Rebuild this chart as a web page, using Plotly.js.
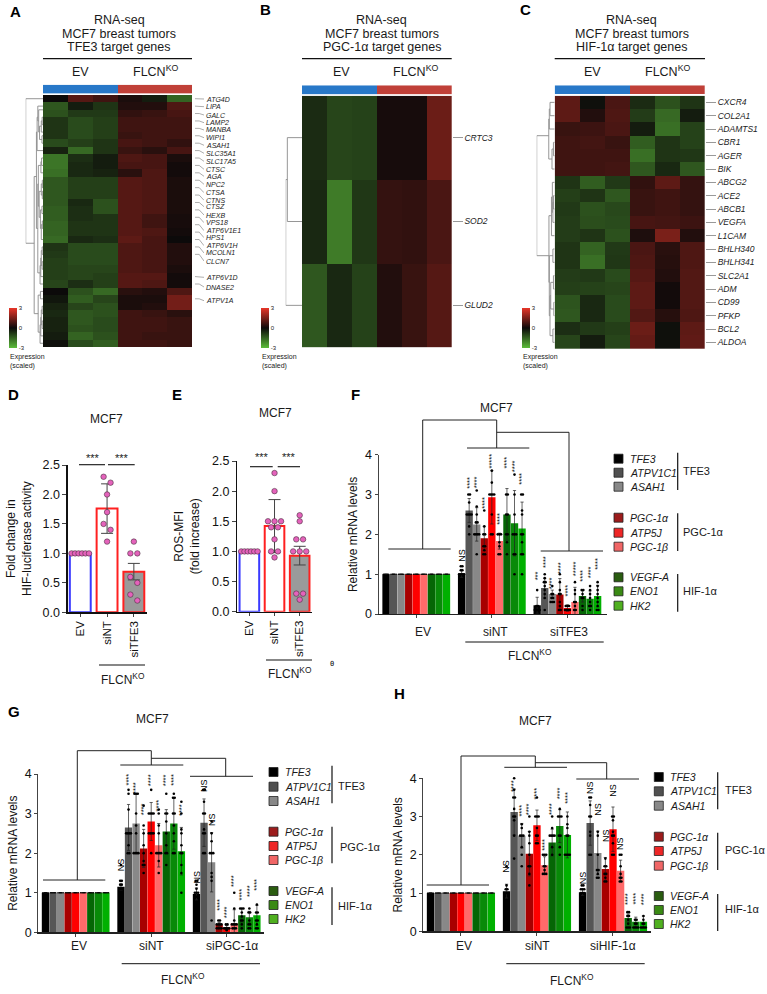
<!DOCTYPE html>
<html><head><meta charset="utf-8">
<script src="https://cdn.plot.ly/plotly-3.0.1.min.js"></script>
<style>html,body{margin:0;padding:0;background:#fff}#c{width:767px;height:994px}</style>
</head><body><div id="c"></div><pre id="dbg" style="position:absolute;left:330px;top:660px;width:70px;font:7px monospace;white-space:pre-wrap;margin:0"></pre>
<script>
const W=767,H=994,FONT='"Liberation Sans",Arial,sans-serif';
// ---------- heatmap data ----------
const heatA=[
[0,1.0,.7,.2,-.3,-1.5],[-1.3,-.3,-.7,.3,.3,.9],[-1.2,-.8,-.8,.5,.6,.8],[-.7,-1.1,-.9,.7,.7,.7],
[-.7,-1.1,-.9,.7,.7,.7],[-.7,-1.1,-.9,.6,.7,.7],[-1.1,-.9,-.7,.8,.7,.5],[-.4,-1.6,-.7,.6,.4,.8],
[-1.8,-.6,-.3,.9,.8,.2],[-1.8,-.5,-.3,.8,.8,.1],[-1.7,-.5,-.4,.4,.9,.1],[-1.3,-.9,-.9,1,.9,.2],
[-1.3,-.9,-.9,1,.9,.2],[-1.3,-.9,-.9,1,.9,.2],[-1.3,-.5,-1.2,1,.9,.2],[-1.4,-.6,-1.2,1,.9,.2],
[-1.4,-.6,-.7,1,.7,.15],[-1.5,-.7,-.7,1,.7,.15],[-1.5,-.7,-.7,1,.9,.1],[-1.6,-.5,-.6,1.1,.8,0],
[-.7,-1.1,-1.1,.9,.8,.3],[-.8,-1.1,-1.1,.9,.8,.3],[-.9,-1.1,-1.1,.9,.8,.3],[-.9,-1.0,-1.0,.9,.8,.2],
[-.9,-1.0,-.9,1,1,.1],[-1,-.6,-.9,1,.9,.1],[0,-1.2,-1.6,.4,.3,.9],[-.2,-1.4,-1,.2,.2,1.4],
[-.4,-1,-1.2,.2,.3,1.4],[-.5,-1.3,-1.2,.7,.6,.4],[-.4,-1.3,-1.1,.7,.7,.6],[-.4,-1.2,-1.1,.7,.7,.6],
[-.3,-1.5,-1.2,.7,.6,.6],[-.1,-1.1,-1.4,.7,.7,.6]];
const genesA=['ATG4D','LIPA','GALC','LAMP2','MANBA','WIPI1','ASAH1','SLC35A1','SLC17A5','CTSC','AGA','NPC2','CTSA','CTNS','CTSZ','HEXB','VPS18','ATP6V1E1','HPS1','ATP6V1H','MCOLN1','CLCN7','ATP6V1D','DNASE2','ATPV1A'];
const rowsA=[0,1,2,3,4,5,6,7,8,9,10,11,12,13,14,15,16,17,18,19,20,21,24,25,27];
const labelYA=[99,106.7,115,122.7,130,137.7,145.3,153.3,161.3,169.3,176.3,184.3,192.7,200.3,206.7,215,222.7,230.7,237.7,245.7,253,261,277.3,287,300.7];
const genesB=['CRTC3','SOD2','GLUD2'];
const heatB=[[-.55,-1.0,-.95,.15,.15,1.3],[-.5,-1.9,-.75,.55,.5,.85],[-1.3,-.5,-.95,.3,.6,1.0]];
const genesC=['CXCR4','COL2A1','ADAMTS1','CBR1','AGER','BIK','ABCG2','ACE2','ABCB1','VEGFA','L1CAM','BHLH340','BHLH341','SLC2A1','ADM','CD99','PFKP','BCL2','ALDOA'];
const heatC=[[1.1,-.1,.85,-.55,-1.2,-.7],[1.1,.3,.9,-.85,-1.6,-.3],[.6,.65,.85,-.3,-1.7,-.95],[.7,.75,.6,-1.4,-.7,-.95],
[.7,.7,.7,-1.7,-.7,-.75],[.7,.7,.75,-1.3,-.5,-1.3],[-.7,-1.4,-.8,.5,1.1,.55],[-.9,-.7,-1.3,.6,.7,.55],[-.8,-1.2,-1.05,.6,.7,.55],
[-.85,-1.15,-1.1,.8,.75,.65],[-.85,-.7,-1.2,.25,1.5,.3],[-.7,-1.5,-.8,.85,.4,.9],[-.7,-1.7,-.75,.9,.35,.9],[-.85,-.8,-1.1,1,.3,.95],
[-.9,-.95,-1.0,1.1,.1,.95],[-1.25,-.5,-1.1,1.1,.1,.95],[-1.3,-.5,-1.1,.95,.35,.9],[-.6,-.8,-.9,1.3,-.1,1.1],[-1.0,-.3,-1.0,1.2,-.1,1.15]];
// dendrogram merges: [rowA, heightA, rowB, heightB, mergeHeight]
const dendroA=[[3,0,4,0,.05],[3.5,.05,5,0,.1],[5.5,0,6.5,0,.06],[4.2,.1,6,.06,.2],[2,0,5,.2,.25],[1.5,0,3.5,.25,.3],[3,.3,7.5,0,.34],
[8.5,0,9.5,0,.08],[9,.08,10.5,0,.12],[11.5,0,12.5,0,.04],[13,0,14,0,.04],[12,.04,13.5,.04,.1],[15,0,16,0,.06],[17,0,18,0,.04],[17.5,.04,19.5,0,.1],[15.5,.06,18,.1,.15],[13,.1,16.5,.15,.22],[9.5,.12,15,.22,.27],
[20.5,0,21.5,0,.05],[22.5,0,23.5,0,.05],[21,.05,23,.05,.1],[22,.1,24.5,0,.13],[23,.13,25.5,0,.17],
[26.5,0,27.5,0,.15],[28.5,0,29.5,0,.05],[30.5,0,31.5,0,.05],[29,.05,31,.05,.1],[30,.1,32.5,0,.13],[31,.13,33.5,0,.17],[27,.15,32,.17,.28],
[12,.27,24,.17,.3],[5,.34,18,.3,.38],[11,.38,29.5,.28,.51],[.5,0,20,.51,1]];
const dendroB=[[.5,0,1.5,0,.9],[1,.9,2.5,0,1]];
const dendroC=[[.5,0,1.5,0,.26],[1,.26,2.5,0,.3],[3.5,0,4.5,0,.07],[4,.07,5.5,0,.15],[1.75,.3,4.75,.15,.33],
[7.5,0,8.5,0,.07],[8,.07,9.5,0,.1],[6.5,0,8.75,.1,.13],[7.6,.13,10.5,0,.18],[11.5,0,12.5,0,.1],[13.5,0,14.5,0,.07],[15.5,0,16.5,0,.05],[14,.07,16,.05,.22],[17.5,0,18.5,0,.1],[15,.22,18,.1,.26],[12,.1,16.5,.26,.3],[9,.18,14,.3,.32],[3,.33,12,.32,1]];
// ---------- panels D, E ----------
const catsDE=['EV','siNT','siTFE3'];
const barsD=[1,1.76,.69], errD=[0,.42,.14];
const ptsD=[[1,1,1,1,1,1],[2.3,2.2,2.0,1.7,1.5,1.4,1.2],[1.2,1,1,.6,.5,.3,.2]];
const barsE=[1,1.42,.93], errE=[0,.44,.155];
const ptsE=[[1,1,1,1,1,1],[2.3,2.0,1.5,1.5,1.5,1.4,1.4,1.2,1.0,1.0,.9],[1.6,1.5,1.2,1.2,1,1,1,.3,.3,.2]];
// ---------- panels F, G, H ----------
const series=['TFE3','ATPV1C1','ASAH1','PGC-1α','ATP5J','PGC-1β','VEGF-A','ENO1','HK2'];
const barColors=['#000000','#565656','#888888','#a80000','#ff0000','#ff6a6a','#056605','#088a08','#00b000'];
const swatchColors=['#000000','#505050','#888888','#9c1c1c','#ee2626','#f06666','#2a5c10','#3a8a14','#50b020'];
const evVals=[1,1,1,1,1,1,1,1,1];
const evPts=[1,1,1,1,1];
const F_siNT=[1.02,2.6,2.25,1.9,2.93,1.83,2.5,2.28,2.15], F_siNT_err=[.1,.3,.42,.3,.67,.2,.65,.82,.66];
const F_si=[.22,.65,.5,.49,.15,.3,.45,.38,.45], F_si_err=[.2,.25,.1,.4,.08,.37,.15,.2,.27];
const F_siNT_pts=[[1,1,1,1,1.1,1.1,1.2,1.2],[2,2.2,2.5,2.5,2.5,2.5,2.8,3,3],[1.5,2,2,2,2,2.3,2.3,2.5,2.7,3.1],[1.5,1.5,1.6,1.7,1.7,2,2,2.2,2.6],[2,2,2.5,3,3,3,3,3.3,3.6],[1.5,1.5,1.7,1.8,2,2,2],[1.5,1.8,2,2,2.5,2.5,3,3],[1,1.5,1.5,2,2,2,2.5,3,3.5],[1,1.5,1.5,1.8,2,2,2.5,2.6,3,3]];
const F_si_pts=[[.1,.1,.1,.1,.2,.2,.6],[.1,.4,.5,.6,.7,.8,.8,.9,1],[.3,.3,.3,.4,.4,.5,.5,.7],[.1,.1,.2,.3,.5,.5,.6,.8,1],[.1,.1,.1,.1,.2,.2,.2],[.1,.1,.2,.3,.3,.5,.6,.8],[.1,.2,.4,.4,.5,.6,.6],[.1,.2,.2,.3,.4,.5,.6,.7],[.1,.1,.2,.3,.4,.5,.6,.7,.8]];
const F_sig1=['NS','****','****','****','*****','****','****','****','****'], F_sig1Y=[1.48,3.3,3.3,2.8,3.85,2.4,3.8,3.7,3.4];
const F_sig2=['***','****','****','****','****','*****','****','****','****'], F_sig2Y=[.95,1.3,.78,1.15,.6,1.15,.95,1.05,1.25];
const G_siNT=[1.15,2.65,2.75,2.12,2.8,2.2,2.55,2.75,2.05], G_siNT_err=[.08,.58,.75,.48,.48,.55,.55,.65,.6];
const G_si=[.97,2.77,1.77,.2,.12,.22,.43,.38,.43], G_si_err=[.15,.6,.75,.05,.05,.35,.17,.15,.25];
const G_siNT_pts=[[1,1.1,1.1,1.2,1.2,1.3,1.3,1.7],[2,2,2.2,2.5,2.5,2.5,2.5,3.1,3.5,3.6],[2,2,2,2,2.5,2.7,3,3.5,3.5,3.5],[1.5,1.7,1.7,1.8,2,2.2,2.5,2.7,3.2],[2,2.5,2.5,2.5,2.5,3,3,3,3,3.6],[1.5,1.8,2,2,2,2,2.5,2.7,3,3.1],[1.7,2,2,2.2,2.5,2.8,3,3,3.5],[2,2,2.3,2.5,2.7,3,3,3.4,3.4,3.5],[1,1.5,1.7,2,2,2.2,2.5,2.6,3,3.3]];
const G_si_pts=[[.9,.9,1,1,1,1.1,1.2,1.3,1.3],[2,2,2.5,2.5,2.6,3,3,3.3,3.6,3.6],[.3,1.3,1.4,1.5,2,2,2,2.3,2.5,2.8],[.1,.1,.1,.1,.2,.2,.2,.2,.3,.3],[.05,.1,.1,.1,.1,.1,.2,.2],[.1,.1,.1,.2,.2,.2,.2,.3,.6,1.0],[.1,.2,.3,.3,.4,.5,.6,.6,.6],[.1,.1,.2,.2,.3,.5,.5,.6],[.1,.1,.2,.3,.3,.5,.5,.7]];
const G_sig1=['NS','****','****','****','****','****','****','****','****'], G_sig1Y=[1.72,3.85,3.65,3.1,3.85,3.2,3.85,3.85,3.1];
const G_sig2=['NS','NS','NS','****','****','****','****','****','****'], G_sig2Y=[1.4,3.7,2.85,.7,.5,1.3,.95,1.05,1.2];
const H_siNT=[1.05,3.12,2.5,2.03,2.77,1.73,2.32,2.75,2.52], H_siNT_err=[.18,.6,.32,.58,.4,.22,.35,.43,.6];
const H_si=[1.02,2.83,2.05,1.63,2.67,1.58,.35,.25,.25], H_si_err=[.08,.58,.57,.3,.58,.28,.1,.12,.15];
const H_siNT_pts=[[1,1,1,1.1,1.1,1.2,1.7],[1.9,2.5,2.9,3,3,3.2,3.5,3.5,3.7,4],[1.7,2,2.2,2.5,2.5,2.5,2.7,2.8],[1.2,1.5,1.7,1.7,2,2.3,2.5,2.6,3],[2.3,2.3,2.5,2.5,2.7,3,3,3,3.5],[1.5,1.5,1.5,1.6,1.7,1.7,2,2,2],[2,2.2,2.5,2.5,2.5,2.5,2.7,3],[2,2.2,2.5,2.5,3,3,3,3.2],[2,2,2,2,2.5,2.5,2.7,2.8,3]];
const H_si_pts=[[1,1,1,1.1,1.1,1.1,1.2,1.2],[2,2,2.5,2.6,3,3,3.3,3.5,3.5],[1.4,1.4,1.5,1.6,1.6,2,2.5,2.6],[1.3,1.3,1.4,1.5,1.5,1.7,1.7,1.9],[2,2,2.3,2.5,2.5,2.6,2.9,3,3],[1.3,1.3,1.4,1.4,1.5,1.7,2,2],[.1,.1,.1,.2,.3,.4,.4,.5,.5],[.1,.1,.1,.1,.2,.2,.3,.3],[.1,.1,.1,.1,.2,.2,.3,.4]];
const H_sig1=['NS','****','****','****','****','****','****','****','****'], H_sig1Y=[1.7,3.8,3.15,3.2,3.6,2.25,3.2,3.6,3.5];
const H_sig2=['NS','NS','NS','NS','NS','NS','****','****','****'], H_sig2Y=[1.4,3.75,3.2,2.5,3.7,2.3,.85,.85,.85];

// ---------- helpers ----------
const traces=[],annotations=[],shapes=[];
const layout={width:W,height:H,margin:{l:0,r:0,t:0,b:0},paper_bgcolor:'#fff',plot_bgcolor:'rgba(0,0,0,0)',showlegend:false,hovermode:false,barmode:'overlay',font:{family:FONT,color:'#111'},annotations,shapes};
let axN=0;
function addAxes(b,xo,yo){axN++;const s=axN===1?'':String(axN);
 const base={fixedrange:true,showgrid:false,zeroline:false};
 layout['xaxis'+s]=Object.assign({},base,{domain:[b.l/W,b.r/W],anchor:'y'+s},xo);
 layout['yaxis'+s]=Object.assign({},base,{domain:[1-b.b/H,1-b.t/H],anchor:'x'+s},yo);
 return {x:'x'+s,y:'y'+s};}
const hidden={showticklabels:false,ticks:'',showline:false};
function txt(x,y,text,o={}){annotations.push({xref:'paper',yref:'paper',x:x/W,y:1-y/H,text,showarrow:false,xanchor:o.anchor||'center',yanchor:'middle',borderpad:0,textangle:o.angle||0,font:{size:o.size||12.5,family:FONT,color:o.color||'#1a1a1a',weight:o.weight||400}});}
function line(x0,y0,x1,y1,w=1,c='#222'){shapes.push({type:'line',xref:'paper',yref:'paper',x0:x0/W,x1:x1/W,y0:1-y0/H,y1:1-y1/H,line:{color:c,width:w}});}
function rect(x0,y0,x1,y1,f){shapes.push({type:'rect',xref:'paper',yref:'paper',x0:x0/W,x1:x1/W,y0:1-y0/H,y1:1-y1/H,fillcolor:f,line:{color:'#222',width:.8}});}
const heatScale=[[0,'#5cbc3a'],[.5,'#0c0a0a'],[1,'#e83528']];
function dendro(b,links,n){const a=addAxes(b,Object.assign({range:[1,0]},hidden),Object.assign({range:[n,0]},hidden));
 const xs=[],ys=[];links.forEach(([r1,h1,r2,h2,h])=>{xs.push(h1,h,h,h2,null);ys.push(r1,r1,r2,r2,null);});
 traces.push({type:'scatter',mode:'lines',x:xs,y:ys,xaxis:a.x,yaxis:a.y,line:{color:'#8a8a8a',width:.9},cliponaxis:false});}
function heatPanel(o){
 const t=o.hT,b=o.hB;
 const s=addAxes({l:o.l,r:o.r,t:o.sT,b:o.sB},Object.assign({range:[-.5,5.5]},hidden),Object.assign({range:[.5,-.5]},hidden));
 traces.push({type:'heatmap',z:[[0,0,0,1,1,1]],zmin:0,zmax:1,colorscale:[[0,'#2878c8'],[1,'#c04038']],showscale:false,xaxis:s.x,yaxis:s.y});
 const yo=o.genes?{type:'category',autorange:'reversed',side:'right',dtick:1,tickmode:'linear',ticks:'outside',ticklen:10,tickcolor:'#999',tickwidth:1,showline:false,tickfont:{size:8.5,style:'italic',family:FONT,color:'#222'}}:Object.assign({range:[o.z.length-.5,-.5]},hidden);
 const a=addAxes({l:o.l,r:o.r,t,b},Object.assign({range:[-.5,5.5]},hidden),yo);
 traces.push({type:'heatmap',z:o.z,y:o.genes,zmin:-3,zmax:3,colorscale:heatScale,xaxis:a.x,yaxis:a.y,showscale:true,
  colorbar:{thickness:8,thicknessmode:'pixels',len:40,lenmode:'pixels',x:o.cbL/W,xanchor:'left',y:1-307.5/H,yanchor:'top',xpad:0,ypad:0,outlinewidth:0,ticks:'',tickvals:[-3,0,3],ticktext:['-3','0','3'],tickfont:{size:6,family:FONT,color:'#222'}}});
 dendro({l:o.dL,r:o.l,t,b},o.links,o.z.length);
 o.title.forEach((tx,i)=>txt(o.cx,20+i*13.6,tx));
 line(o.l,58.7,o.r,58.7,1.2,'#111');
 txt(o.evX,72,'EV');txt(o.koX,71,'FLCN<sup>KO</sup>');
 txt(o.cbL,356.7,'Expression',{size:7,anchor:'left'});txt(o.cbL,366,'(scaled)',{size:7,anchor:'left'});
}
function swarm(vals,center,tol,stepMax,maxW){const s=vals.slice().sort((a,b)=>b-a);const xs=[],ys=[];let i=0;
 while(i<s.length){let j=i;while(j+1<s.length&&s[j]-s[j+1]<=tol+1e-9)j++;const n=j-i+1,st=Math.min(stepMax,maxW/n);
  for(let k=0;k<n;k++){xs.push(center+(k-(n-1)/2)*st);ys.push(s[i+k]);}i=j+1;}
 return {xs,ys};}
function simplePanel(o){
 const a=addAxes({l:o.l,r:o.r,t:o.t,b:o.b},
  {range:[o.xmin,o.xmax],tickvals:catsDE.map((_,i)=>i),ticktext:catsDE,showline:true,linecolor:'#111',linewidth:1.3,ticks:'outside',ticklen:3,tickangle:-90,tickfont:{size:11.5,family:FONT,color:'#111'}},
  {range:[0,2.5],tickvals:[0,.5,1,1.5,2,2.5],tickformat:'.1f',showline:true,linecolor:'#111',linewidth:1.3,ticks:'outside',ticklen:4,tickfont:{size:12.5,family:FONT,color:'#111'},
   title:{text:o.ytitle,font:{size:12,family:FONT,color:'#111'},standoff:o.standoff}});
 traces.push({type:'bar',x:catsDE.map((_,i)=>i),y:o.vals,width:o.barW,xaxis:a.x,yaxis:a.y,marker:{color:['#fff','#fff','#9a9a9a'],line:{color:['#3a3aff','#ff2020','#ff2020'],width:2}},
  error_y:{type:'data',array:o.err,visible:true,color:'#444',thickness:1,width:6}});
 o.pts.forEach((p,i)=>{const sw=swarm(p,i,o.tol,o.step,.78);
  traces.push({type:'scatter',mode:'markers',x:sw.xs,y:sw.ys,xaxis:a.x,yaxis:a.y,cliponaxis:false,marker:{size:5.5,color:'#e462bb',line:{color:'#4a3040',width:.6}}});});
}
function groupPanel(o){
 const a=addAxes({l:o.l,r:o.r,t:o.t,b:o.b},
  {range:[o.xmin,o.xmax],tickvals:[4,14,24],showticklabels:false,showline:true,linecolor:'#222',linewidth:1.2,ticks:'outside',ticklen:3},
  {range:[0,4],tickvals:[0,1,2,3,4],showline:true,linecolor:'#444',linewidth:1.2,ticks:'outside',ticklen:3,tickfont:{size:12.5,family:FONT,color:'#111'},
   title:{text:'Relative mRNA levels',font:{size:12,family:FONT,color:'#111'},standoff:o.standoff}});
 const groups=[[evVals,evVals.map(()=>0),evVals.map(()=>evPts),null,null],[o.g1,o.g1e,o.g1p,o.s1,o.s1y],[o.g2,o.g2e,o.g2p,o.s2,o.s2y]];
 groups.forEach(([v,e,p,s,sy],g)=>{
  const xs=v.map((_,i)=>g*10+i);
  traces.push({type:'bar',x:xs,y:v,width:.97,xaxis:a.x,yaxis:a.y,marker:{color:barColors,line:{width:0}},
   error_y:{type:'data',array:e,visible:true,color:'#222',thickness:.7,width:1.6}});
  p.forEach((pp,i)=>{const sw=swarm(pp,g*10+i,0,.22,.85);
   traces.push({type:'scatter',mode:'markers',x:sw.xs,y:sw.ys,xaxis:a.x,yaxis:a.y,cliponaxis:false,marker:{size:g?2.6:1.6,color:'#000'}});});
  if(s)s.forEach((tx,i)=>annotations.push({xref:a.x,yref:a.y,x:g*10+i,y:sy[i],text:tx,showarrow:false,textangle:-90,borderpad:0,font:{size:tx==='NS'?9:7.5,family:FONT,color:'#000'}}));
 });
 o.groupLabels.forEach(([t,x])=>txt(x,o.gy,t,{size:12}));
 line(o.koL,o.koLineY,o.koR,o.koLineY,1,'#111');txt(o.koX,o.koY,'FLCN<sup>KO</sup>',{size:12});
 const br=o.br;
 line(br.ev[0],br.ev[2],br.ev[1],br.ev[2]);
 line(br.nt[0],br.nt[2],br.nt[1],br.nt[2]);
 line(br.si[0],br.si[2],br.si[1],br.si[2]);
 line(br.a,br.ev[2],br.a,br.top);line(br.a,br.top,br.b,br.top);line(br.b,br.top,br.b,br.nt[2]);
 line(br.b,br.mid,br.c,br.mid);line(br.c,br.mid,br.c,br.si[2]);
 series.forEach((s,i)=>{rect(o.lg.x,o.lg.ys[i]-4.5,o.lg.x+9,o.lg.ys[i]+4.5,swatchColors[i]);txt(o.lg.x+15,o.lg.ys[i],'<i>'+s+'</i>',{size:10.5,anchor:'left'});});
 o.lg.bars.forEach(([x,y0,y1])=>line(x,y0,x,y1,1.2,'#111'));
 o.lg.groups.forEach(([t,x,y])=>txt(x,y,t,{size:11,anchor:'left'}));
 txt(o.mx,o.my,'MCF7',{size:12});
}

// ---------- build panels ----------
heatPanel({z:heatA,l:43,r:192,hT:95,hB:347,sT:84.7,sB:93.5,dL:25.7,links:dendroA,cbL:9,cx:119,evX:80.7,koX:155,
 title:['RNA-seq','MCF7 breast tumors','TFE3 target genes']});
heatPanel({z:heatB,genes:genesB,l:302,r:451.7,hT:95.7,hB:347.3,sT:85.3,sB:94.5,dL:285.7,links:dendroB,cbL:260.7,cx:381.7,evX:341,koX:415,
 title:['RNA-seq','MCF7 breast tumors','PGC-1α target genes']});
heatPanel({z:heatC,genes:genesC,l:554.7,r:705,hT:95.7,hB:349,sT:85.3,sB:94,dL:536.7,links:dendroC,cbL:521.7,cx:631.7,evX:592.3,koX:667.7,
 title:['RNA-seq','MCF7 breast tumors','HIF-1α target genes']});
(function(){const top=95,rowH=252/heatA.length;
 const a=addAxes({l:192,r:204,t:top,b:347},Object.assign({range:[0,1]},hidden),Object.assign({range:[347,95]},hidden));
 const xs=[],ys=[];
 genesA.forEach((g,i)=>{const ry=top+(rowsA[i]+.5)*rowH;xs.push(.25,.6,1,null);ys.push(ry,ry,labelYA[i],null);txt(205,labelYA[i],'<i>'+g+'</i>',{size:7,anchor:'left'});});
 traces.push({type:'scatter',mode:'lines',x:xs,y:ys,xaxis:a.x,yaxis:a.y,line:{color:'#8a8a8a',width:.7},cliponaxis:false});
})();
simplePanel({l:67.7,r:146.7,t:465,b:612.3,xmin:-.47,xmax:2.48,barW:.78,vals:barsD,err:errD,pts:ptsD,tol:.11,step:.26,ytitle:'Fold change in<br>HIF-luciferase activity',standoff:8});
simplePanel({l:237.3,r:312,t:461,b:611.7,xmin:-.48,xmax:2.49,barW:.78,vals:barsE,err:errE,pts:ptsE,tol:.01,step:.27,ytitle:'ROS-MFI<br>(fold increase)',standoff:10});
txt(106.7,419,'MCF7',{size:12});txt(275,413,'MCF7',{size:12});
txt(93,458,'***',{size:11});txt(121.7,458,'***',{size:11});line(79,464.7,105,464.7,1.1,'#111');line(108,464.7,134.7,464.7,1.1,'#111');
txt(262,457,'***',{size:11});txt(289,457,'***',{size:11});line(250,466.7,272.7,466.7,1.1,'#111');line(277.7,466.7,300,466.7,1.1,'#111');
line(99,665,145,665,1.1,'#111');txt(123,679,'FLCN<sup>KO</sup>',{size:12});
line(266,660,312,660,1.1,'#111');txt(290,673,'FLCN<sup>KO</sup>',{size:12});

groupPanel({l:378.7,r:606.7,t:454.7,b:614,xmin:-.97,xmax:29.2,standoff:4,g1:F_siNT,g1e:F_siNT_err,g1p:F_siNT_pts,s1:F_sig1,s1y:F_sig1Y,g2:F_si,g2e:F_si_err,g2p:F_si_pts,s2:F_sig2,s2y:F_sig2Y,
 groupLabels:[['EV',423.3],['siNT',495.7],['siTFE3',569]],gy:632,koL:465.3,koR:603.7,koLineY:642,koX:530,koY:655,mx:496.7,my:407.7,
 br:{ev:[388.3,450.7,549],nt:[467,529.3,448],si:[540.7,603,551],a:422.7,b:496.7,c:569,top:420,mid:432.3},
 lg:{x:614,ys:[458.7,472.7,486.7,517.7,532.7,546.7,577.3,591.3,605.7],bars:[[677.7,452.7,490],[677.7,513.3,551],[677.7,574,611.7]],groups:[['TFE3',682.3,470.7],['PGC-1α',682.3,531.7],['HIF-1α',682.3,590.7]]}});
groupPanel({l:38.3,r:264,t:774,b:932.3,xmin:-.95,xmax:28.94,standoff:4,g1:G_siNT,g1e:G_siNT_err,g1p:G_siNT_pts,s1:G_sig1,s1y:G_sig1Y,g2:G_si,g2e:G_si_err,g2p:G_si_pts,s2:G_sig2,s2y:G_sig2Y,
 groupLabels:[['EV',79.3],['siNT',151.7],['siPGC-1α',232.3]],gy:945.7,koL:121.7,koR:260,koLineY:963.7,koX:183.3,koY:979,mx:152,my:719,
 br:{ev:[43,105.3,880],nt:[120.3,183.3,765],si:[190,253,776.3],a:77.3,b:151.3,c:225.7,top:750.7,mid:758.3},
 lg:{x:269,ys:[772,786.7,801,831.7,846,860,891,905,919],bars:[[332,765.7,803.3],[332,826.7,863.3],[332,887.3,925]],groups:[['TFE3',336.7,786],['PGC-1α',339.3,846.7],['HIF-1α',336.7,905.7]]}});
groupPanel({l:423.3,r:651,t:778.3,b:931.3,xmin:-.95,xmax:29,standoff:4,g1:H_siNT,g1e:H_siNT_err,g1p:H_siNT_pts,s1:H_sig1,s1y:H_sig1Y,g2:H_si,g2e:H_si_err,g2p:H_si_pts,s2:H_sig2,s2y:H_sig2Y,
 groupLabels:[['EV',464.3],['siNT',537.3],['siHIF-1α',613.3]],gy:945.7,koL:506.3,koR:644.7,koLineY:963.7,koX:571.7,koY:980,mx:535.7,my:721,
 br:{ev:[426.7,489,885],nt:[504.3,567,767.3],si:[576.3,639,779],a:461,b:535.3,c:606.7,top:756,mid:762.7},
 lg:{x:654.3,ys:[777,791.3,805.7,836.7,851,865.7,896,910,924],bars:[[717.7,772.3,809.3],[717.7,832.7,870],[717.7,894,931]],groups:[['TFE3',724.3,790],['PGC-1α',724.3,850],['HIF-1α',724.3,909]]}});
[['A',15,11],['B',265,10],['C',525,10],['D',14,394],['E',177,394],['F',355,394],['G',14,711],['H',399,693]].forEach(([t,x,y])=>txt(x,y,t,{size:15,weight:700,color:'#000'}));
Plotly.newPlot('c',traces,layout,{displayModeBar:false,staticPlot:true}).then(()=>{
 const out=[];document.querySelectorAll('svg text').forEach(t=>{const b=t.getBoundingClientRect();if(b.width===0||b.height===0)out.push((t.getAttribute('class')||'?')+':'+JSON.stringify(t.textContent));});
 document.getElementById('dbg').textContent=out.length+' '+out.join(' ');
});
</script></body></html>
